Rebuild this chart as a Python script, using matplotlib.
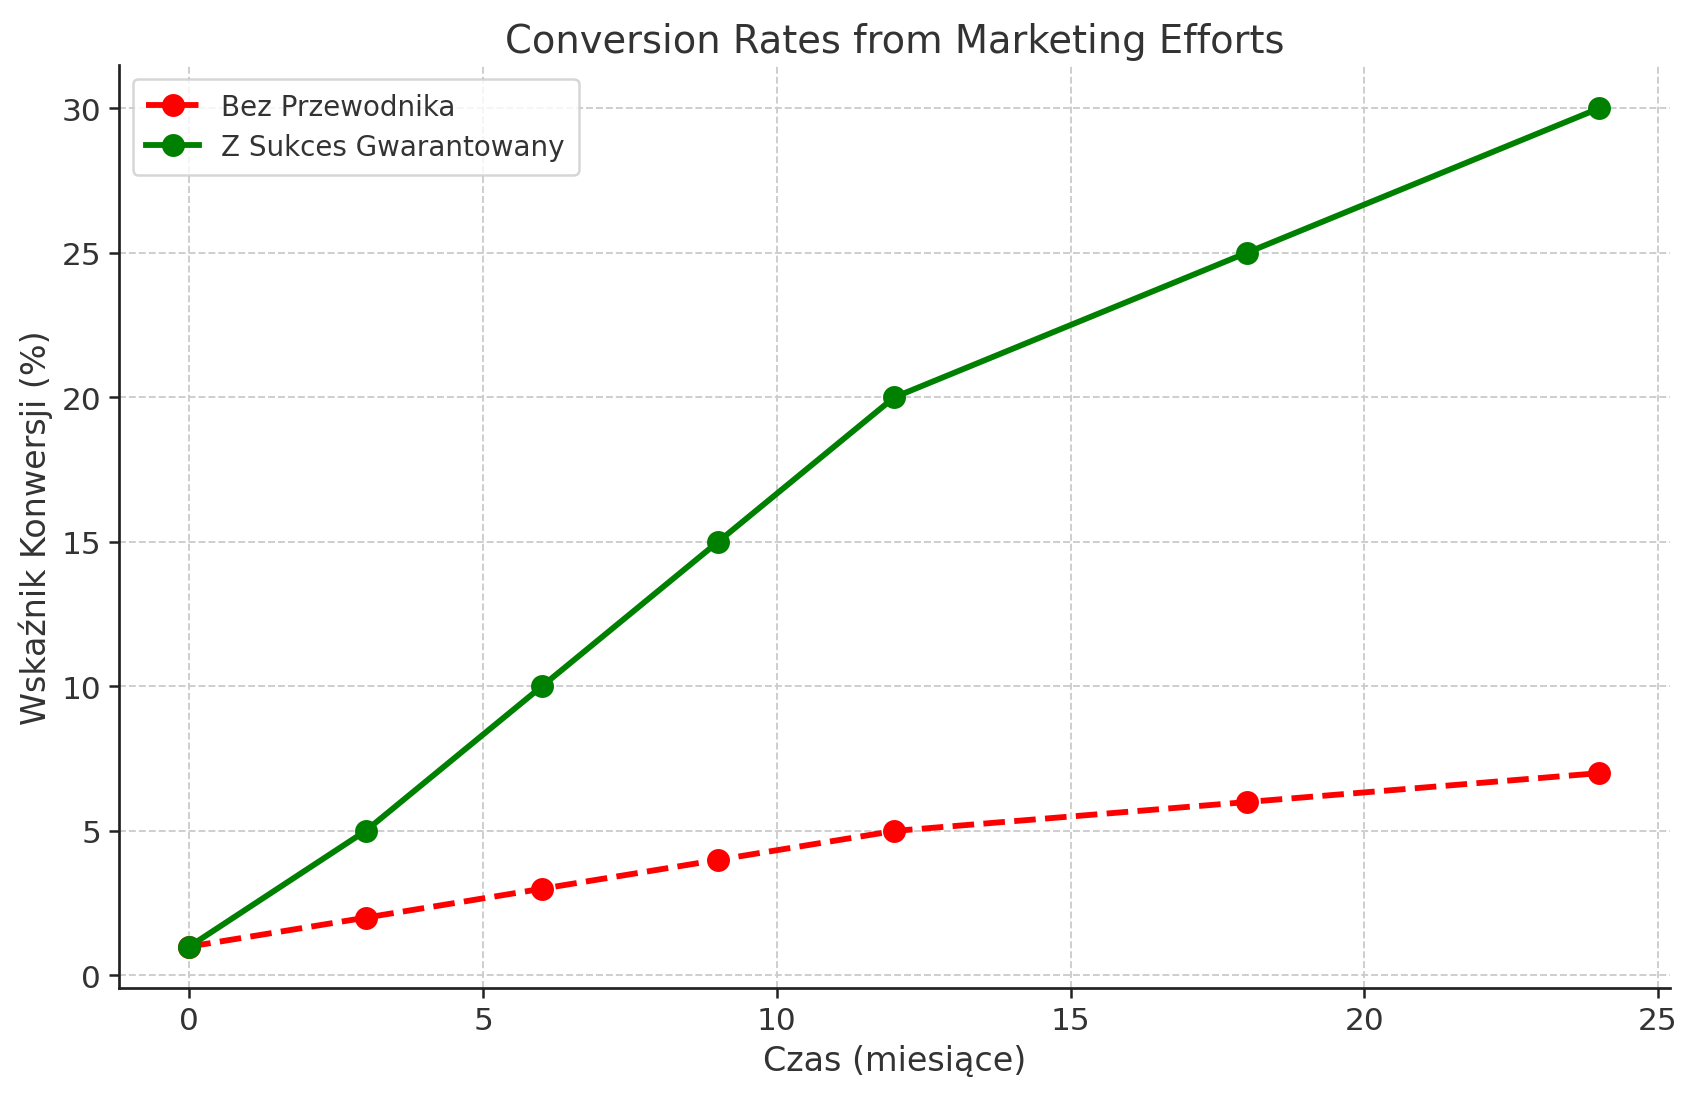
import matplotlib
matplotlib.use("Agg")
import matplotlib.pyplot as plt

# data
months = [0, 3, 6, 9, 12, 18, 24]
bez_przewodnika = [1, 2, 3, 4, 5, 6, 7]
z_sukces = [1, 5, 10, 15, 20, 25, 30]

plt.rcParams["font.family"] = ["DejaVu Sans"]
text_color = "#333333"

fig, ax = plt.subplots(figsize=(11.313, 7.313), dpi=150)
fig.subplots_adjust(left=0.07, right=0.984, top=0.94, bottom=0.098)

ax.plot(months, bez_przewodnika, color="red", linestyle="--", marker="o",
        linewidth=2.8, markersize=10, label="Bez Przewodnika")
ax.plot(months, z_sukces, color="green", linestyle="-", marker="o",
        linewidth=2.8, markersize=10, label="Z Sukces Gwarantowany")

ax.set_title("Conversion Rates from Marketing Efforts", fontsize=18.5, color=text_color)
ax.set_xlabel("Czas (miesiące)", fontsize=16, color=text_color)
ax.set_ylabel("Wskaźnik Konwersji (%)", fontsize=16, color=text_color)

ax.set_xticks([0, 5, 10, 15, 20, 25])
ax.set_yticks([0, 5, 10, 15, 20, 25, 30])
ax.set_xlim(-1.2, 25.2)
ax.set_ylim(-0.45, 31.5)
ax.tick_params(labelsize=15, colors="#222222", length=5, width=1.2)
for lbl in ax.get_xticklabels() + ax.get_yticklabels():
    lbl.set_color(text_color)

ax.grid(True, linestyle="--", color="#cccccc", linewidth=0.9)
ax.set_axisbelow(True)
for side in ("top", "right"):
    ax.spines[side].set_visible(False)
for side in ("left", "bottom"):
    ax.spines[side].set_linewidth(1.3)
    ax.spines[side].set_color("#222222")

leg = ax.legend(loc="upper left", fontsize=13.3, frameon=True, handlelength=1.9,
                borderpad=0.5, labelspacing=0.45)
leg.get_frame().set_edgecolor("#cccccc")
leg.get_frame().set_linewidth(1.2)
for t in leg.get_texts():
    t.set_color(text_color)

fig.savefig("out.png", dpi=150)
